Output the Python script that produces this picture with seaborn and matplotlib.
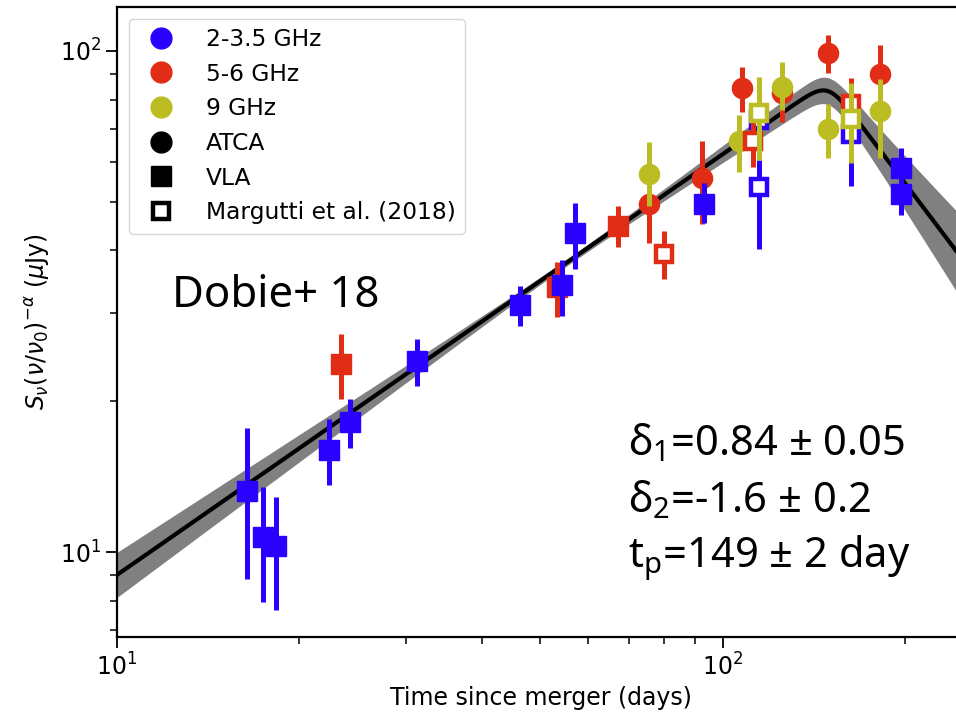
import numpy as np
import pandas as pd
import matplotlib
matplotlib.use("Agg")
import matplotlib.pyplot as plt
from matplotlib.lines import Line2D
import seaborn as sns

# ---- colours for the observing bands
BLUE = "#2a00ff"
RED = "#e22d16"
YELLOW = "#bcbd22"

# ---- ATCA (filled circles)
atca_red_t = [75.5, 92.3, 107.4, 125.0, 149.3, 181.5]
atca_red_s = [49.5, 55.7, 84.3, 82.3, 99.0, 89.8]
atca_red_lo = [41.3, 45.2, 75.7, 72.3, 90.2, 80.0]
atca_red_hi = [58.5, 66.2, 92.8, 92.0, 107.6, 102.8]

atca_yel_t = [75.5, 106.4, 125.0, 149.3, 181.5]
atca_yel_s = [56.8, 66.1, 84.9, 69.8, 75.9]
atca_yel_lo = [49.0, 57.3, 76.2, 61.1, 61.1]
atca_yel_hi = [65.7, 74.5, 95.2, 78.4, 88.0]

# ---- VLA (filled squares)
vla_red_t = [23.4, 53.2, 67.0]
vla_red_s = [23.7, 33.8, 44.8]
vla_red_lo = [20.2, 29.5, 40.7]
vla_red_hi = [27.3, 38.0, 49.1]

vla_blue_t = [16.4, 17.4, 18.3, 22.4, 24.2, 31.3, 46.2, 54.2, 57.1, 93.1, 196.8, 196.8]
vla_blue_s = [13.26, 10.73, 10.29, 15.98, 18.2, 24.1, 31.1, 34.1, 43.3, 49.6, 58.3, 51.8]
vla_blue_lo = [8.82, 7.94, 7.66, 13.6, 16.1, 21.5, 28.3, 29.6, 36.8, 45.4, 53.0, 47.1]
vla_blue_hi = [17.7, 13.5, 12.9, 18.4, 20.2, 26.6, 34.0, 38.3, 49.7, 54.5, 63.9, 57.0]

# ---- Margutti et al. (2018) (open squares)
mar_blue_t = [114.5, 114.5, 162.6]
mar_blue_s = [72.8, 53.6, 68.2]
mar_blue_lo = [68.0, 40.2, 53.8]
mar_blue_hi = [78.0, 60.6, 78.0]

mar_red_t = [79.9, 112.0, 162.6]
mar_red_s = [39.3, 66.1, 78.4]
mar_red_lo = [35.0, 58.8, 72.0]
mar_red_hi = [43.7, 72.0, 88.2]

mar_yel_t = [114.5, 162.6]
mar_yel_s = [75.1, 73.1]
mar_yel_lo = [60.6, 59.8]
mar_yel_hi = [88.9, 86.2]

# ---- fitted smoothed broken power law
t_peak = 149.0
delta1 = 0.84
delta2 = -1.6
s_peak = 87.1
smooth = 15.0

sns.set_style("ticks")
plt.rcParams["font.family"] = ["DejaVu Sans"]
plt.rcParams["mathtext.fontset"] = "dejavusans"
plt.rcParams["mathtext.rm"] = "Noto Sans"
plt.rcParams["mathtext.it"] = "Noto Sans:italic"
plt.rcParams["mathtext.bf"] = "Noto Sans:bold"
for key in ["text.color", "axes.labelcolor", "xtick.color", "ytick.color", "axes.edgecolor"]:
    plt.rcParams[key] = "black"

fig = plt.figure(figsize=(9.56, 7.15), dpi=100)
ax = fig.add_axes([117 / 956, 78 / 715, 847 / 956, 630 / 715])

# model curve and its uncertainty band
t_model = np.logspace(1, np.log10(260), 400)
r = t_model / t_peak
s_model = s_peak * (r ** (-smooth * delta1) + r ** (-smooth * delta2)) ** (-1 / smooth)
half = np.sqrt(0.007 ** 2 + (0.06 * np.log10(t_model / 55.0)) ** 2
               + (0.33 * np.clip(np.log10(r), 0, None)) ** 2)
model = pd.DataFrame({"t": t_model, "s": s_model})
ax.fill_between(t_model, s_model / 10 ** half, s_model * 10 ** half,
                color="#808080", lw=0, zorder=1)
sns.lineplot(data=model, x="t", y="s", ax=ax, color="black", lw=3, zorder=2)


def draw(t, s, lo, hi, color, marker, open_face, z):
    s = np.asarray(s)
    yerr = [s - np.asarray(lo), np.asarray(hi) - s]
    if open_face:
        ax.errorbar(t, s, yerr=yerr, fmt=marker, ms=12, mfc="white", mec=color,
                    mew=3.2, ecolor=color, elinewidth=3.6, capsize=0, zorder=z)
    else:
        ax.errorbar(t, s, yerr=yerr, fmt=marker, ms=14.5, color=color,
                    ecolor=color, elinewidth=3.6, capsize=0, zorder=z)


draw(atca_red_t, atca_red_s, atca_red_lo, atca_red_hi, RED, "o", False, 3)
draw(atca_yel_t, atca_yel_s, atca_yel_lo, atca_yel_hi, YELLOW, "o", False, 4)
draw(vla_red_t, vla_red_s, vla_red_lo, vla_red_hi, RED, "s", False, 5)
draw(vla_blue_t, vla_blue_s, vla_blue_lo, vla_blue_hi, BLUE, "s", False, 6)
draw(mar_blue_t, mar_blue_s, mar_blue_lo, mar_blue_hi, BLUE, "s", True, 7)
draw(mar_red_t, mar_red_s, mar_red_lo, mar_red_hi, RED, "s", True, 8)
draw(mar_yel_t, mar_yel_s, mar_yel_lo, mar_yel_hi, YELLOW, "s", True, 9)

ax.set_xscale("log")
ax.set_yscale("log")
ax.set_xlim(10, 250)
ax.set_ylim(6.77, 122.4)

ax.set_xlabel("Time since merger (days)", fontsize=17)
ax.set_ylabel(r"$S_\nu(\nu/\nu_0)^{-\alpha}$ ($\mu$Jy)", fontsize=17, labelpad=6)
ax.tick_params(which="major", length=8, width=1.3, labelsize=17, direction="out")
ax.tick_params(which="minor", length=5, width=1.1, direction="out")
for sp in ax.spines.values():
    sp.set_linewidth(1.6)

handles = [
    Line2D([], [], ls="none", marker="o", ms=15, color=BLUE),
    Line2D([], [], ls="none", marker="o", ms=15, color=RED),
    Line2D([], [], ls="none", marker="o", ms=15, color=YELLOW),
    Line2D([], [], ls="none", marker="o", ms=15, color="black"),
    Line2D([], [], ls="none", marker="s", ms=15, color="black"),
    Line2D([], [], ls="none", marker="s", ms=12, mfc="white", mec="black", mew=3.2),
]
labels = ["2-3.5 GHz", "5-6 GHz", "9 GHz", "ATCA", "VLA", "Margutti et al. (2018)"]
ax.legend(handles, labels, loc="upper left", fontsize=16.8, frameon=True,
          labelspacing=0.5, handletextpad=0.9, borderaxespad=0.5)

note_font = ["Noto Sans", "DejaVu Sans"]
ax.text(0.065, 0.524, "Dobie+ 18", transform=ax.transAxes, fontsize=31.5,
        family=note_font, va="baseline")
fit_lines = [r"δ$_\mathrm{1}$=0.84 ± 0.05", r"δ$_\mathrm{2}$=-1.6 ± 0.2",
             r"t$_\mathrm{p}$=149 ± 2 day"]
for y, txt in zip([0.289, 0.198, 0.111], fit_lines):
    ax.text(0.603, y, txt, transform=ax.transAxes, fontsize=30, family=note_font,
            va="baseline", math_fontfamily="custom")

fig.savefig("out.png", dpi=100)
